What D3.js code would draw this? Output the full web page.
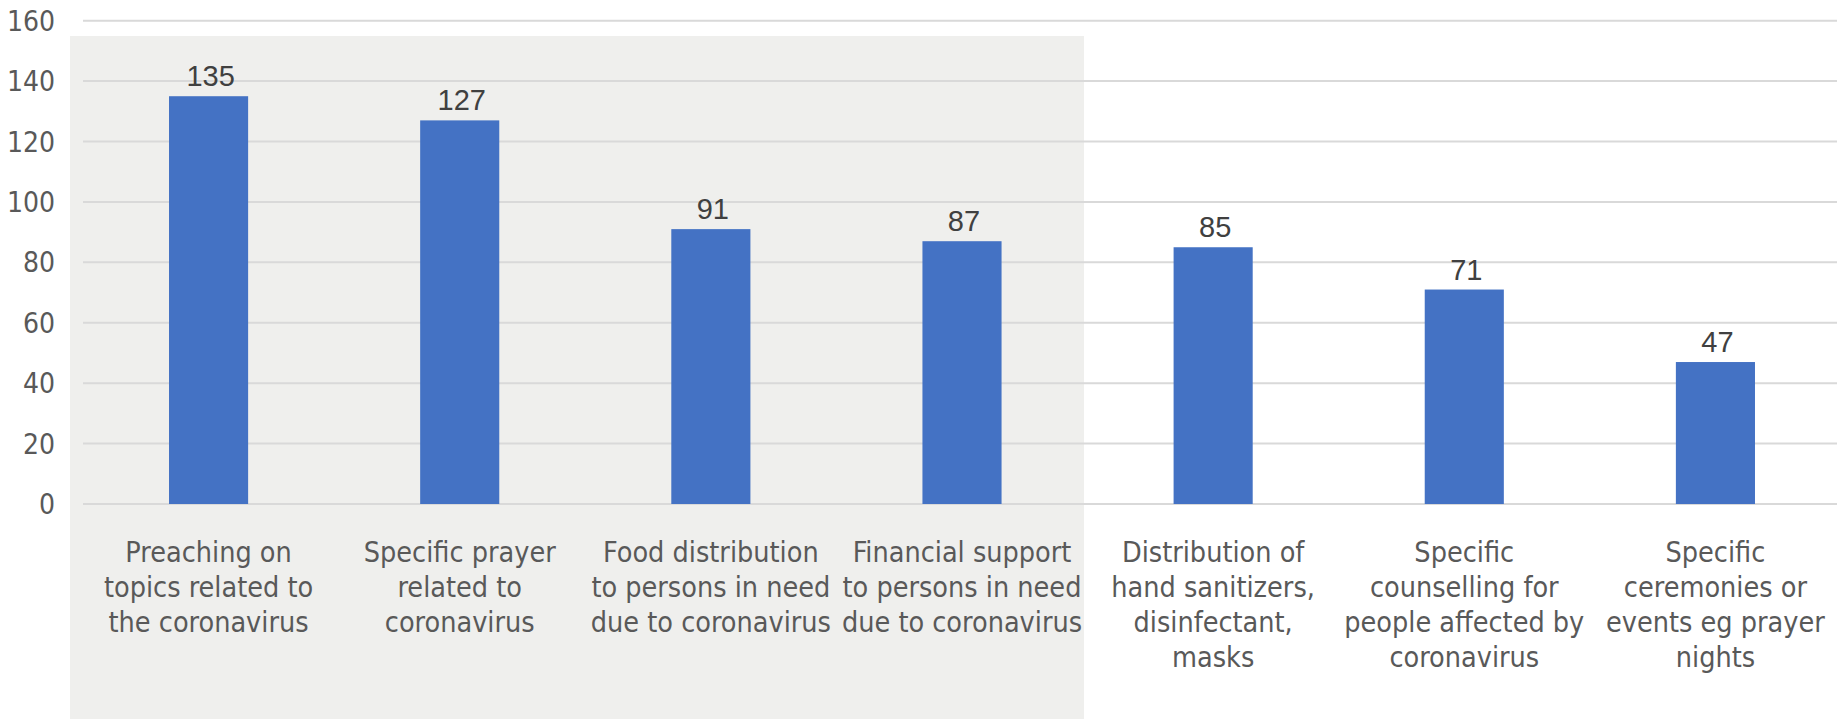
<!DOCTYPE html>
<html>
<head>
<meta charset="utf-8">
<script src="https://cdn.jsdelivr.net/npm/d3@7"></script>
<style>
  body { margin: 0; background: #ffffff; }
</style>
</head>
<body>
<div id="chart-area"></div>
<script>
// *********************
// Data
// *********************

// Category labels, already split in lines as in the picture
const categories = [
	["Preaching on", "topics related to", "the coronavirus"],
	["Specific prayer", "related to", "coronavirus"],
	["Food distribution", "to persons in need", "due to coronavirus"],
	["Financial support", "to persons in need", "due to coronavirus"],
	["Distribution of", "hand sanitizers,", "disinfectant,", "masks"],
	["Specific", "counselling for", "people affected by", "coronavirus"],
	["Specific", "ceremonies or", "events eg prayer", "nights"]
];

// Number of responses
const values = [135, 127, 91, 87, 85, 71, 47];

// Y axis ticks
const yTicks = [0, 20, 40, 60, 80, 100, 120, 140, 160];

// *********************
// Basic setup SVG
// *********************

const width = 1837;
const height = 719;

const svg = d3.select("#chart-area")
	.append("svg")
	.attr("width", width)
	.attr("height", height);

// light gray panel behind the first four categories
svg.append("rect")
	.attr("x", 70)
	.attr("y", 36)
	.attr("width", 1084 - 70)
	.attr("height", height - 36)
	.attr("fill", "#efefed");

// *********************
// Scales
// *********************

const x = d3.scaleBand()
	.domain(d3.range(categories.length))
	.range([83, 1841])
	.paddingInner(0.685)
	.paddingOuter(0.3425);

const y = d3.scaleLinear()
	.domain([0, 160])
	.range([504, 20.7]);

// *********************
// Grid and axis labels
// *********************

svg.append("g")
	.selectAll("line")
	.data(yTicks)
	.enter()
	.append("line")
	.attr("x1", 83)
	.attr("x2", width)
	.attr("y1", d => y(d))
	.attr("y2", d => y(d))
	.attr("stroke", "#d9d9d9")
	.attr("stroke-width", 2);

svg.append("g")
	.selectAll("text")
	.data(yTicks)
	.enter()
	.append("text")
	.attr("x", 55)
	.attr("y", d => y(d))
	.attr("dy", "0.36em")
	.attr("text-anchor", "end")
	.attr("font-family", "DejaVu Sans Condensed")
	.attr("font-size", "28px")
	.attr("fill", "#595959")
	.text(d => d);

// *********************
// Bars and value labels
// *********************

svg.append("g")
	.selectAll("rect")
	.data(values)
	.enter()
	.append("rect")
	.attr("x", (d, i) => x(i))
	.attr("y", d => y(d))
	.attr("width", x.bandwidth())
	.attr("height", d => y(0) - y(d))
	.attr("fill", "#4472c4");

svg.append("g")
	.selectAll("text")
	.data(values)
	.enter()
	.append("text")
	.attr("x", (d, i) => x(i) + x.bandwidth() / 2 + 2)
	.attr("y", d => y(d) - 10)
	.attr("text-anchor", "middle")
	.attr("font-family", "Liberation Sans")
	.attr("font-size", "29px")
	.attr("fill", "#404040")
	.text(d => d);

// *********************
// Category labels
// *********************

const catGroup = svg.append("g")
	.attr("font-family", "DejaVu Sans Condensed")
	.attr("font-size", "28.5px")
	.attr("fill", "#595959")
	.attr("text-anchor", "middle");

categories.forEach((lines, i) => {
	const t = catGroup.append("text")
		.attr("x", x(i) + x.bandwidth() / 2)
		.attr("y", 562);
	lines.forEach((line, j) => {
		t.append("tspan")
			.attr("x", x(i) + x.bandwidth() / 2)
			.attr("dy", j === 0 ? 0 : 35)
			.text(line);
	});
});
</script>
</body>
</html>
